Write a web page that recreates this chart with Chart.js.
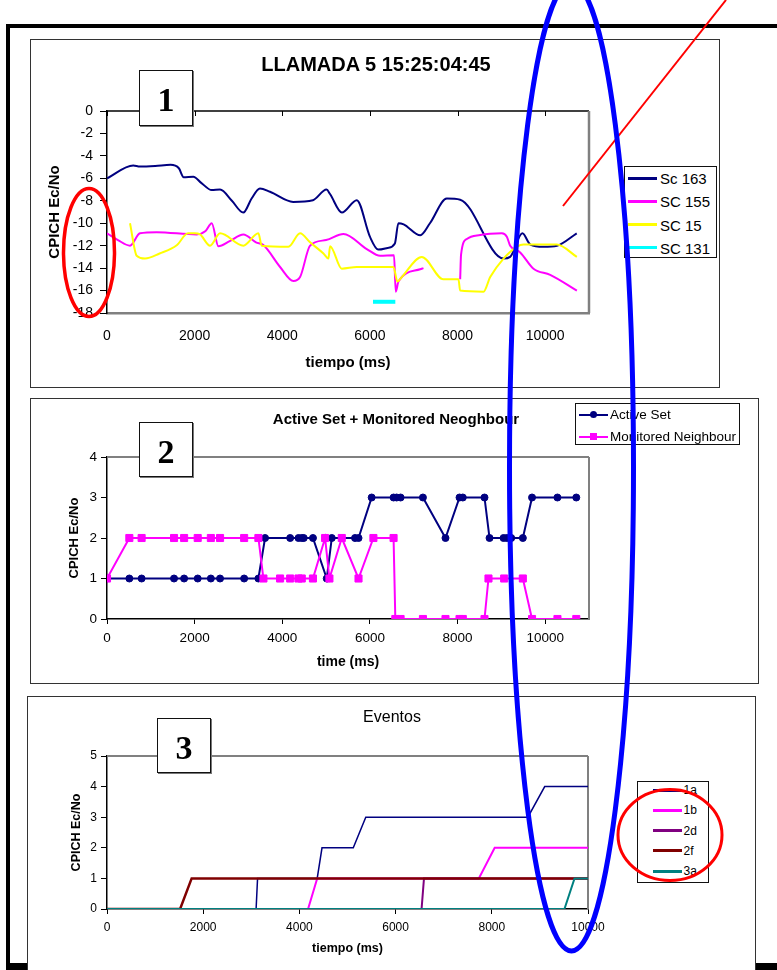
<!DOCTYPE html>
<html>
<head>
<meta charset="utf-8">
<script src="https://cdn.jsdelivr.net/npm/chart.js@4.4.0/dist/chart.umd.min.js"></script>
<style>
html,body{margin:0;padding:0;background:#fff;}
body{width:777px;height:970px;position:relative;overflow:hidden;font-family:'Liberation Sans',Arial,Helvetica,sans-serif;color:#000;}
.abs{position:absolute;}
.panel{position:absolute;background:#fff;border:1px solid #333;box-sizing:border-box;}
.numbox{position:absolute;background:#fff;border:1.5px solid #111;box-sizing:border-box;font-family:'Liberation Serif','Times New Roman',serif;font-weight:bold;font-size:34px;display:flex;align-items:center;justify-content:center;box-shadow:1px 1px 0 #777;padding-top:4px;}
.legend{position:absolute;background:#fff;border:1.5px solid #111;box-sizing:border-box;}
.ttl{position:absolute;white-space:nowrap;transform:translate(-50%,-50%);line-height:1;}
canvas{position:absolute;}
</style>
</head>
<body>
<!-- outer frame -->
<div class="abs" style="left:6px;top:24px;width:771px;height:4px;background:#000"></div>
<div class="abs" style="left:6px;top:24px;width:4px;height:946px;background:#000"></div>
<div class="abs" style="left:6px;top:963px;width:771px;height:7px;background:#000"></div>

<!-- panels -->
<div class="panel" style="left:30px;top:39px;width:690px;height:349px"></div>
<div class="panel" style="left:30px;top:398px;width:729px;height:286px"></div>
<div class="panel" style="left:27px;top:696px;width:729px;height:290px"></div>

<canvas id="c1" width="689" height="348" style="left:30px;top:39px"></canvas>
<canvas id="c2" width="728" height="285" style="left:30px;top:398px"></canvas>
<canvas id="c3" width="727" height="274" style="left:28px;top:696px"></canvas>

<div id="t1" class="ttl" style="left:376px;top:64px;font-weight:bold;font-size:20px"></div>
<div id="t2" class="ttl" style="left:396px;top:418px;font-weight:bold;font-size:15px"></div>
<div id="t3" class="ttl" style="left:392px;top:717px;font-size:16px"></div>

<div id="lg1" class="legend" style="left:624px;top:166px;width:93px;height:92px"></div>
<div id="lg2" class="legend" style="left:575px;top:403px;width:165px;height:42px"></div>
<div id="lg3" class="legend" style="left:637px;top:781px;width:72px;height:102px"></div>

<div class="numbox" style="left:139px;top:70px;width:54px;height:56px">1</div>
<div class="numbox" style="left:139px;top:422px;width:54px;height:55px">2</div>
<div class="numbox" style="left:157px;top:718px;width:54px;height:55px">3</div>

<svg class="abs" style="left:0;top:0;pointer-events:none" width="777" height="970">
  <ellipse cx="89" cy="252.5" rx="25.5" ry="64" fill="none" stroke="#ff0000" stroke-width="3.5"/>
  <ellipse cx="670" cy="835" rx="52" ry="45.5" fill="none" stroke="#ff0000" stroke-width="3"/>
  <line x1="563" y1="206" x2="726" y2="0" stroke="#ff0000" stroke-width="2"/>
  <ellipse cx="571.5" cy="467" rx="62" ry="484" fill="none" stroke="#0000ff" stroke-width="5"/>
</svg>

<script>
const FONT = "'Liberation Sans', Arial, Helvetica, sans-serif";

/* ---------- Chart 1 data ---------- */
const title1 = 'LLAMADA 5 15:25:04:45';
const names1 = ['Sc 163', 'SC 155', 'SC 15', 'SC 131'];
const colors1 = ['#000080', '#ff00ff', '#ffff00', '#00ffff'];
const sc163 = [[0,-6],[600,-4.85],[750,-4.95],[1100,-4.9],[1450,-4.8],[1640,-5.1],[1750,-5.9],[1970,-5.85],[2150,-6.4],[2390,-7.05],[2580,-7],[2850,-8],[3110,-9.05],[3300,-7.8],[3490,-6.9],[3720,-7.2],[4250,-8.1],[4700,-7.95],[5010,-7],[5090,-7.4],[5360,-9.05],[5700,-7.95],[6000,-11.2],[6190,-12.35],[6400,-12.2],[6570,-11.8],[6650,-10],[6770,-10.1],[7150,-11.07],[7370,-10],[7755,-7.8],[8060,-7.9],[9050,-13.15],[9200,-13],[9480,-10.9],[9660,-11.9],[9960,-12.1],[10270,-12.0],[10720,-10.9]];
const sc155 = [[0,-10.9],[250,-11.5],[525,-12],[753,-10.9],[1134,-10.8],[2047,-11],[2250,-10.7],[2390,-10],[2542,-12.05],[2800,-11.6],[3112,-11],[3400,-11.7],[3569,-11.95],[3950,-13.9],[4254,-15.15],[4406,-14.8],[4635,-12],[5000,-11.5],[5396,-10.95],[5929,-12.3],[6233,-12.9],[6550,-12.85],[6590,-16.1],[6651,-15.2],[7146,-14.1],[7222,-14],[7600,null],[8060,-15],[8080,-12.8],[8212,-11.4],[8516,-11.05],[9011,-10.9],[9125,-11.2],[9201,-12],[9429,-12.6],[9733,-14.05],[10114,-14.6],[10723,-16]];
const sc15 = [[525,-10],[678,-12.9],[868,-13.15],[1200,-12.7],[1591,-11.96],[1850,-10.9],[2000,-10.9],[2123,-11],[2352,-12],[2580,-10.9],[3112,-12],[3455,-10.9],[3531,-12],[4140,-12.1],[4406,-10.9],[4635,-11.7],[4940,-12.7],[5053,-13.15],[5091,-12.05],[5358,-14.05],[5700,-13.9],[6537,-13.9],[6628,-15.2],[6727,-14.8],[7184,-13],[7678,-15],[8021,-15],[8059,-16],[8592,-16.1],[8745,-14.8],[9049,-13.15],[9353,-12.1],[9505,-11.9],[10266,-11.9],[10723,-13]];
const sc131 = [[6070,-17],[6580,-17]];
const series1 = [sc163, sc155, sc15, sc131];
const widths1 = [2, 2, 2, 4];
const timeTicks1 = [0, 2000, 4000, 6000, 8000, 10000];
const ecnoTicks1 = [-18, -16, -14, -12, -10, -8, -6, -4, -2, 0];

/* ---------- Chart 2 data ---------- */
const title2 = 'Active Set + Monitored Neoghbour';
const names2 = ['Active Set', 'Monitored Neighbour'];
const colors2 = ['#000080', '#ff00ff'];
const activeTime = [0,510,790,1530,1760,2070,2370,2580,3130,3455,3607,4180,4370,4445,4490,4700,5015,5130,5660,5740,6040,6540,6610,6700,7210,7725,8045,8120,8615,8730,9050,9125,9225,9490,9700,10280,10710];
const activeVals = [1,1,1,1,1,1,1,1,1,1,2,2,2,2,2,2,1,2,2,2,3,3,3,3,3,2,3,3,3,2,2,2,2,2,3,3,3];
const monTime = [0,510,790,1530,1760,2070,2370,2580,3130,3455,3570,3950,4180,4370,4445,4700,4977,5076,5358,5740,6080,6540,6580,6700,7210,7725,8045,8120,8615,8706,9064,9490,9700,10280,10710];
const monVals = [1,2,2,2,2,2,2,2,2,2,1,1,1,1,1,1,2,1,2,1,2,2,0,0,0,0,0,0,0,1,1,1,0,0,0];
const timeTicks2 = [0, 2000, 4000, 6000, 8000, 10000];
const countTicks2 = [0, 1, 2, 3, 4];

/* ---------- Chart 3 data ---------- */
const title3 = 'Eventos';
const names3 = ['1a', '1b', '2d', '2f', '3a'];
const colors3 = ['#000080', '#ff00ff', '#800080', '#800000', '#008080'];
const ev1a = [[0,0],[3100,0],[3130,1],[4370,1],[4470,2],[5120,2],[5380,3],[8750,3],[9100,4],[10000,4]];
const ev1b = [[0,0],[4180,0],[4370,1],[7730,1],[8060,2],[10000,2]];
const ev2d = [[0,0],[6540,0],[6590,1],[10000,1]];
const ev2f = [[0,0],[1520,0],[1760,1],[10000,1]];
const ev3a = [[0,0],[9510,0],[9720,1],[10000,1]];
const series3 = [ev1a, ev1b, ev2d, ev2f, ev3a];
const widths3 = [1.5, 2, 2, 2.5, 2];
const timeTicks3 = [0, 2000, 4000, 6000, 8000, 10000];
const countTicks3 = [0, 1, 2, 3, 4, 5];

const yTitle = 'CPICH Ec/No';

/* ---------- helpers ---------- */
Chart.defaults.font.family = FONT;
Chart.defaults.color = '#000';

const framePlugin = {
  id: 'frame',
  beforeDatasetsDraw(chart, args, opts) {
    const ctx = chart.ctx, a = chart.chartArea;
    ctx.save();
    const line = (x1, y1, x2, y2, c, w) => {
      if (!c) return;
      ctx.strokeStyle = c; ctx.lineWidth = w;
      ctx.beginPath(); ctx.moveTo(x1, y1); ctx.lineTo(x2, y2); ctx.stroke();
    };
    line(a.left, a.top, a.right, a.top, opts.topColor, opts.topWidth);
    line(a.right, a.top, a.right, a.bottom, opts.rightColor, opts.rightWidth);
    if (opts.topTicks) {
      const xs = chart.scales.x;
      ctx.strokeStyle = '#000'; ctx.lineWidth = 1;
      xs.ticks.forEach(t => {
        const px = Math.round(xs.getPixelForValue(t.value)) + 0.5;
        ctx.beginPath(); ctx.moveTo(px, a.top); ctx.lineTo(px, a.top + opts.topTicks); ctx.stroke();
      });
    }
    ctx.restore();
  }
};

const setTicks = arr => scale => { scale.ticks = arr.map(v => ({ value: v })); };
const pts = arr => arr.map(p => ({ x: p[0], y: p[1] }));

function buildLegend(id, names, colors, cfg) {
  const el = document.getElementById(id);
  names.forEach((n, i) => {
    const cy = cfg.y0 + i * cfg.dy;
    const ln = document.createElement('div');
    ln.style.cssText = `position:absolute;left:${cfg.lx}px;top:${cy - cfg.lw / 2}px;width:${cfg.lwid}px;height:${cfg.lw}px;background:${colors[i]}`;
    el.appendChild(ln);
    if (cfg.markers) {
      const m = cfg.markers[i];
      const mk = document.createElement('div');
      mk.style.cssText = `position:absolute;left:${cfg.lx + cfg.lwid / 2 - m.s / 2}px;top:${cy - m.s / 2}px;width:${m.s}px;height:${m.s}px;background:${colors[i]};border-radius:${m.round ? '50%' : '0'}`;
      el.appendChild(mk);
    }
    const tx = document.createElement('div');
    tx.textContent = n;
    tx.style.cssText = `position:absolute;left:${cfg.tx}px;top:${cy}px;transform:translateY(-50%);font-size:${cfg.fs}px;line-height:1;white-space:nowrap;color:#000`;
    el.appendChild(tx);
  });
}

document.getElementById('t1').textContent = title1;
document.getElementById('t2').textContent = title2;
document.getElementById('t3').textContent = title3;

/* ---------- Chart 1 ---------- */
const ds1 = series1.map((s, i) => ({
  label: names1[i], data: pts(s), borderColor: colors1[i], backgroundColor: colors1[i],
  borderWidth: widths1[i], pointRadius: 0, cubicInterpolationMode: 'monotone', spanGaps: false, fill: false
})).reverse();

new Chart(document.getElementById('c1'), {
  type: 'line',
  data: { datasets: ds1 },
  options: {
    responsive: false, animation: false, devicePixelRatio: 1, events: [],
    layout: { padding: { left: 0, top: 72, right: 130, bottom: 0 } },
    plugins: { legend: { display: false }, tooltip: { enabled: false },
      frame: { topColor: '#000', topWidth: 1.5, rightColor: '#808080', rightWidth: 2.5, topTicks: 5 } },
    scales: {
      x: { type: 'linear', min: 0, max: 11000, afterBuildTicks: setTicks(timeTicks1),
        ticks: { padding: 15, font: { size: 14 }, color: '#000', maxRotation: 0, autoSkip: false, callback: v => String(v) },
        grid: { display: false, drawTicks: false }, border: { color: '#808080', width: 2.5 },
        title: { display: true, text: 'tiempo (ms)', color: '#000', font: { size: 15, weight: 'bold' }, padding: { top: 0, bottom: 15 } },
        afterFit: s => { s.height = 74; } },
      y: { type: 'linear', min: -18, max: 0, afterBuildTicks: setTicks(ecnoTicks1),
        ticks: { padding: 7, font: { size: 14 }, color: '#000', autoSkip: false, callback: v => String(v) },
        grid: { drawOnChartArea: false, drawTicks: true, tickLength: 7, color: '#000' }, border: { color: '#000', width: 1.5 },
        title: { display: true, text: yTitle, color: '#000', font: { size: 15, weight: 'bold' }, padding: { top: 16, bottom: 0 } },
        afterFit: s => { s.width = 77; } }
    }
  },
  plugins: [framePlugin]
});

/* ---------- Chart 2 ---------- */
const ds2 = [
  { label: names2[0], data: activeTime.map((t, i) => ({ x: t, y: activeVals[i] })), borderColor: colors2[0], backgroundColor: colors2[0],
    borderWidth: 2, pointRadius: 3.5, pointStyle: 'circle', pointBorderWidth: 1, tension: 0, fill: false },
  { label: names2[1], data: monTime.map((t, i) => ({ x: t, y: monVals[i] })), borderColor: colors2[1], backgroundColor: colors2[1],
    borderWidth: 2, pointRadius: 5, pointStyle: 'rect', pointBorderWidth: 1, tension: 0, fill: false }
].reverse();

new Chart(document.getElementById('c2'), {
  type: 'line',
  data: { datasets: ds2 },
  options: {
    responsive: false, animation: false, devicePixelRatio: 1, events: [],
    layout: { padding: { left: 0, top: 59, right: 169, bottom: 0 } },
    plugins: { legend: { display: false }, tooltip: { enabled: false },
      frame: { topColor: '#808080', topWidth: 2, rightColor: '#808080', rightWidth: 2 } },
    scales: {
      x: { type: 'linear', min: 0, max: 11000, afterBuildTicks: setTicks(timeTicks2),
        ticks: { padding: 6, font: { size: 13.5 }, color: '#000', maxRotation: 0, autoSkip: false, callback: v => String(v) },
        grid: { drawOnChartArea: false, drawTicks: true, tickLength: 5, color: '#000' }, border: { color: '#000', width: 1.5 },
        title: { display: true, text: 'time (ms)', color: '#000', font: { size: 14, weight: 'bold' }, padding: { top: 0, bottom: 12.6 } },
        afterFit: s => { s.height = 64; } },
      y: { type: 'linear', min: 0, max: 4, afterBuildTicks: setTicks(countTicks2),
        ticks: { padding: 4, font: { size: 13.5 }, color: '#000', autoSkip: false, callback: v => String(v) },
        grid: { drawOnChartArea: false, drawTicks: true, tickLength: 6, color: '#000' }, border: { color: '#000', width: 1.5 },
        title: { display: true, text: yTitle, color: '#000', font: { size: 13, weight: 'bold' }, padding: { top: 37, bottom: 0 } },
        afterFit: s => { s.width = 77; } }
    }
  },
  plugins: [framePlugin]
});

/* ---------- Chart 3 ---------- */
const ds3 = series3.map((s, i) => ({
  label: names3[i], data: pts(s), borderColor: colors3[i], backgroundColor: colors3[i],
  borderWidth: widths3[i], pointRadius: 0, tension: 0, fill: false
})).reverse();

new Chart(document.getElementById('c3'), {
  type: 'line',
  data: { datasets: ds3 },
  options: {
    responsive: false, animation: false, devicePixelRatio: 1, events: [],
    layout: { padding: { left: 0, top: 60, right: 167, bottom: 0 } },
    plugins: { legend: { display: false }, tooltip: { enabled: false },
      frame: { topColor: '#808080', topWidth: 2, rightColor: '#808080', rightWidth: 2 } },
    scales: {
      x: { type: 'linear', min: 0, max: 10000, afterBuildTicks: setTicks(timeTicks3),
        ticks: { padding: 6, font: { size: 12 }, color: '#000', maxRotation: 0, autoSkip: false, callback: v => String(v) },
        grid: { drawOnChartArea: false, drawTicks: true, tickLength: 5, color: '#000' }, border: { color: '#000', width: 1.5 },
        title: { display: true, text: 'tiempo (ms)', color: '#000', font: { size: 12.5, weight: 'bold' }, padding: { top: 0, bottom: 13.5 } },
        afterFit: s => { s.height = 61; } },
      y: { type: 'linear', min: 0, max: 5, afterBuildTicks: setTicks(countTicks3),
        ticks: { padding: 4, font: { size: 12 }, color: '#000', autoSkip: false, callback: v => String(v) },
        grid: { drawOnChartArea: false, drawTicks: true, tickLength: 6, color: '#000' }, border: { color: '#000', width: 1.5 },
        title: { display: true, text: yTitle, color: '#000', font: { size: 12.5, weight: 'bold' }, padding: { top: 41.5, bottom: 0 } },
        afterFit: s => { s.width = 79; } }
    }
  },
  plugins: [framePlugin]
});

/* ---------- legends ---------- */
buildLegend('lg1', names1, colors1, { y0: 11, dy: 23.3, lx: 3, lwid: 29, lw: 3, tx: 35, fs: 15 });
buildLegend('lg2', names2, colors2, { y0: 10.5, dy: 22, lx: 3, lwid: 29, lw: 2, tx: 34, fs: 13.5,
  markers: [{ s: 7, round: true }, { s: 7, round: false }] });
buildLegend('lg3', names3, colors3, { y0: 8, dy: 20.3, lx: 14.5, lwid: 29, lw: 3, tx: 45.5, fs: 12 });
</script>
</body>
</html>
